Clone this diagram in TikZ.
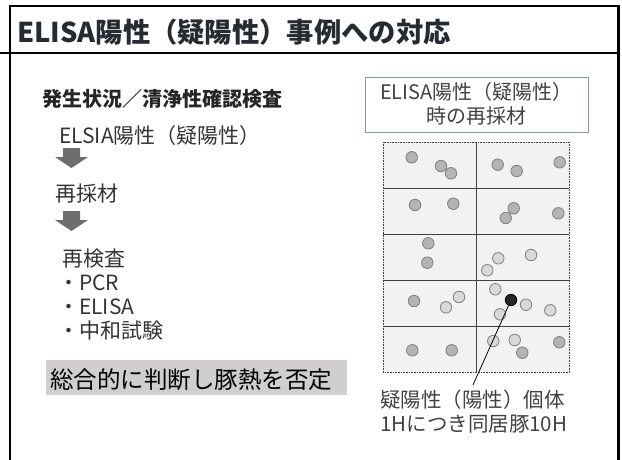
\documentclass[tikz,border=0pt]{standalone}
\usepackage{fontspec}
\setmainfont{Noto Sans CJK JP}
\definecolor{titlecol}{HTML}{262B33}
\definecolor{bodycol}{HTML}{333333}
\definecolor{arrowcol}{HTML}{6E6E6E}
\definecolor{concl}{HTML}{D0CECE}
\definecolor{boxedge}{HTML}{8497B0}
\definecolor{gridfill}{HTML}{F2F2F2}
\definecolor{gridline}{HTML}{404040}
\definecolor{pigmid}{HTML}{B4B4B4}
\definecolor{piglight}{HTML}{D9D9D9}
\definecolor{pigedge}{HTML}{7F7F7F}
\tikzset{
  txt/.style={anchor=base west, inner sep=0pt, text=bodycol, font=\fontsize{21}{25}\selectfont},
  downarrow/.style={fill=arrowcol, draw=none},
  pigm/.style={circle, fill=pigmid, draw=pigedge, line width=0.8pt, minimum size=11.5pt, inner sep=0pt},
  pigl/.style={circle, fill=piglight, draw=pigedge, line width=0.8pt, minimum size=11.5pt, inner sep=0pt},
  pigpos/.style={circle, fill=black!85, draw=black, line width=0.8pt, minimum size=11.5pt, inner sep=0pt},
}
\begin{document}
\begin{tikzpicture}[x=1pt,y=-1pt]
\useasboundingbox (0,0) rectangle (622,459);
% frame
\draw[line width=1.5pt] (9,6) -- (618,6);
\draw[line width=2.5pt] (10,5.3) -- (10,462);
\draw[line width=3pt] (618,4.8) -- (618,462);
\draw[line width=1.5pt] (0,53) -- (618,53);
% title
\node[anchor=base west, inner sep=0pt, text=titlecol, font=\bfseries\fontsize{27.3}{31}\selectfont] (title) at (17,42) {ELISA陽性（疑陽性）事例への対応};
% left column
\node[txt, font=\bfseries\fontsize{20}{24}\selectfont, text=black!85] (head) at (42,106) {発生状況／清浄性確認検査};
\node[txt] (t1) at (59,143) {ELSIA陽性（疑陽性）};
\fill[downarrow] (63,148) -- (80,148) -- (80,157) -- (88,157) -- (71.5,168) -- (55,157) -- (63,157) -- cycle;
\node[txt] (t2) at (55,201) {再採材};
\fill[downarrow] (63,211) -- (80,211) -- (80,220) -- (88,220) -- (71.5,231) -- (55,220) -- (63,220) -- cycle;
\node[txt] (t3) at (62,266) {再検査};
\node[txt] (t4) at (58,290) {・PCR};
\node[txt] (t5) at (58,314) {・ELISA};
\node[txt] (t6) at (58,338) {・中和試験};
\fill[concl] (46,360) rectangle (347,395);
\node[txt, text=black, font=\fontsize{23.5}{27}\selectfont] (concl) at (50,388) {総合的に判断し豚熱を否定};
% right box
\draw[boxedge, line width=1pt] (365,77) rectangle (588,132);
\node[anchor=center, align=center, inner sep=0pt, text=gridline, font=\fontsize{20}{24}\selectfont] (rbox) at (476.5,104) {ELISA陽性（疑陽性）\\時の再採材};
% grid
\fill[gridfill] (383,142) rectangle (569,372);
\foreach \yy in {188,234,280,326} \draw[gridline, line width=0.8pt] (383,\yy) -- (569,\yy);
\draw[gridline, line width=0.8pt] (476,142) -- (476,372);
\draw[gridline, line width=0.8pt, dash pattern=on 1pt off 0.6pt] (383,142) rectangle (569,372);
% pigs
\node[pigm] (p1) at (411.7,157.3) {};
\node[pigm] (p2) at (441,166) {};
\node[pigm] (p3) at (451,173.3) {};
\node[pigm] (p4) at (497.7,164.7) {};
\node[pigm] (p5) at (516.7,171) {};
\node[pigm] (p6) at (559.7,162.3) {};
\node[pigm] (p7) at (415,205) {};
\node[pigm] (p8) at (453.3,203.7) {};
\node[pigm] (p9) at (513.7,208.3) {};
\node[pigm] (p10) at (505.7,218) {};
\node[pigm] (p11) at (558.3,213.3) {};
\node[pigm] (p12) at (428.3,243.3) {};
\node[pigm] (p13) at (427.3,262.7) {};
\node[pigl] (p14) at (498.3,258.3) {};
\node[pigl] (p15) at (531,255) {};
\node[pigl] (p16) at (487.3,270.3) {};
\node[pigm] (p17) at (414,301) {};
\node[pigl] (p18) at (446,307.3) {};
\node[pigl] (p19) at (459,297) {};
\node[pigl] (p20) at (495.3,289.3) {};
\node[pigl] (p21) at (526,304.7) {};
\node[pigl] (p22) at (500,314.3) {};
\node[pigl] (p23) at (550.3,310.3) {};
\node[pigpos] (pos) at (511,300) {};
\node[pigm] (p24) at (412.3,350.3) {};
\node[pigm] (p25) at (451.7,350.3) {};
\node[pigl] (p26) at (493.3,341) {};
\node[pigl] (p27) at (514.7,340) {};
\node[pigm] (p28) at (522.3,352.7) {};
\node[pigm] (p29) at (559.3,342.3) {};
% label
\coordinate (lblend) at (473,385);
\draw[black, line width=0.8pt] (pos) -- (lblend);
\node[txt, text=gridline, font=\fontsize{20.5}{24}\selectfont] (lab1) at (380,407) {疑陽性（陽性）個体};
\node[txt, text=gridline, font=\fontsize{20.5}{24}\selectfont] (lab2) at (380,431) {1Hにつき同居豚10H};
\end{tikzpicture}
\end{document}
